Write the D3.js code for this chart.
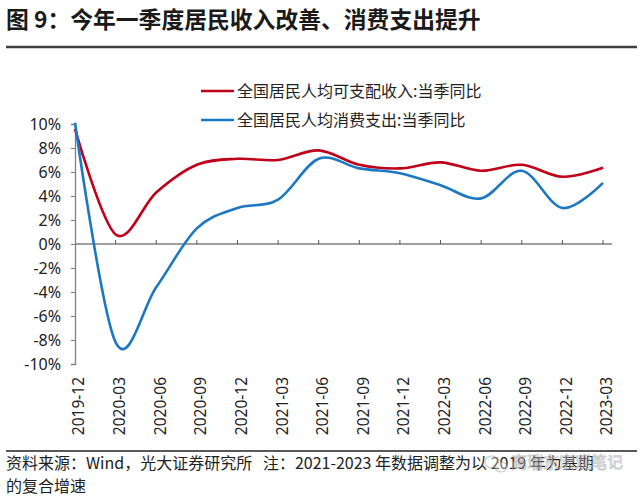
<!DOCTYPE html>
<html>
<head>
<meta charset="utf-8">
<script src="https://cdn.jsdelivr.net/npm/d3@7/dist/d3.min.js"></script>
<style>
  body { margin: 0; background: #fff; }
  svg { display: block; }
</style>
</head>
<body>
<div id="chart"></div>
<script>
// quarters on the x axis
const quarters = ["2019-12", "2020-03", "2020-06", "2020-09", "2020-12", "2021-03", "2021-06",
                  "2021-09", "2021-12", "2022-03", "2022-06", "2022-09", "2022-12", "2023-03"];
// 全国居民人均可支配收入:当季同比 (%)
const income = [9.6, 0.8, 4.3, 6.6, 7.1, 7.0, 7.8, 6.6, 6.3, 6.8, 6.1, 6.6, 5.6, 6.35];
// 全国居民人均消费支出:当季同比 (%)
const spending = [10.1, -8.2, -3.6, 1.3, 3.0, 3.7, 7.1, 6.3, 5.9, 4.9, 3.8, 6.1, 3.0, 5.1];
const yTicks = [-10, -8, -6, -4, -2, 0, 2, 4, 6, 8, 10];

const seriesNames = ["全国居民人均可支配收入:当季同比", "全国居民人均消费支出:当季同比"];
const colors = ["#c00018", "#1c78c2"];

const width = 640, height = 498;
const cjk = "'Noto Sans CJK SC', sans-serif";
const num = "'Noto Sans', 'Noto Sans CJK SC', sans-serif";

const svg = d3.select("#chart")
    .append("svg")
    .attr("width", width)
    .attr("height", height);

// title
svg.append("text")
    .attr("x", 6)
    .attr("y", 28)
    .attr("font-family", cjk)
    .attr("font-weight", 700)
    .attr("font-size", 22.8)
    .attr("fill", "#1a1a1a")
    .text("图 9：今年一季度居民收入改善、消费支出提升");

svg.append("line")
    .attr("x1", 6).attr("x2", 637)
    .attr("y1", 47).attr("y2", 47)
    .attr("stroke", "#404040")
    .attr("stroke-width", 2.5);

const x = d3.scalePoint()
    .domain(quarters)
    .range([75, 603]);

const y = d3.scaleLinear()
    .domain([-10, 10])
    .range([364, 124]);

// y axis
const yAxis = svg.append("g")
    .attr("transform", "translate(75,0)")
    .call(d3.axisLeft(y).tickValues(yTicks).tickSize(4).tickPadding(10).tickFormat(d => d + "%"));
yAxis.select(".domain").attr("stroke", "#7f7f7f").attr("stroke-width", 1.3);
yAxis.selectAll(".tick line").attr("stroke", "#7f7f7f");
yAxis.selectAll(".tick text")
    .attr("font-family", num)
    .attr("font-size", 16)
    .attr("fill", "#222");

// x axis on the zero line
const xAxis = svg.append("g")
    .attr("transform", `translate(0,${y(0)})`);
xAxis.append("line")
    .attr("x1", 75).attr("x2", 612)
    .attr("stroke", "#7f7f7f")
    .attr("stroke-width", 1.5);
xAxis.selectAll(".tk")
    .data(quarters.slice(1))
    .enter().append("line")
    .attr("class", "tk")
    .attr("x1", d => x(d)).attr("x2", d => x(d))
    .attr("y1", 0).attr("y2", -4)
    .attr("stroke", "#555")
    .attr("stroke-width", 1);

// rotated quarter labels below the plot
svg.selectAll(".xlab")
    .data(quarters)
    .enter().append("text")
    .attr("class", "xlab")
    .attr("transform", d => `translate(${x(d) + 4},377) rotate(-90)`)
    .attr("text-anchor", "end")
    .attr("dy", "0.35em")
    .attr("font-family", num)
    .attr("font-size", 15.5)
    .attr("fill", "#222")
    .text(d => d);

// lines
const line = d3.line()
    .x((d, i) => x(quarters[i]))
    .y(d => y(d))
    .curve(d3.curveCatmullRom.alpha(0));

[income, spending].forEach((s, k) => {
    svg.append("path")
        .datum(s)
        .attr("fill", "none")
        .attr("stroke", colors[k])
        .attr("stroke-width", 2.6)
        .attr("d", line);
});

// legend
const legend = svg.append("g");
seriesNames.forEach((name, k) => {
    const ly = 91 + k * 29;
    legend.append("line")
        .attr("x1", 201).attr("x2", 234)
        .attr("y1", ly).attr("y2", ly)
        .attr("stroke", colors[k])
        .attr("stroke-width", 2.6);
    legend.append("text")
        .attr("x", 237)
        .attr("y", ly)
        .attr("dy", "0.35em")
        .attr("font-family", cjk)
        .attr("font-size", 16)
        .attr("fill", "#222")
        .text(name);
});

// footer
svg.append("line")
    .attr("x1", 6).attr("x2", 637)
    .attr("y1", 451).attr("y2", 451)
    .attr("stroke", "#222")
    .attr("stroke-width", 1.3);

const foot = svg.append("text")
    .attr("font-family", cjk)
    .attr("font-size", 16)
    .attr("fill", "#222")
    .style("white-space", "pre");
foot.append("tspan")
    .attr("x", 6).attr("y", 469)
    .text("资料来源：Wind，光大证券研究所   注：2021-2023 年数据调整为以 2019 年为基期");
foot.append("tspan")
    .attr("x", 6).attr("y", 492)
    .text("的复合增速");

// watermark, semi-transparent over the note
const wm = svg.append("g").attr("opacity", 0.6);
wm.append("ellipse")
    .attr("cx", 492).attr("cy", 462).attr("rx", 7).attr("ry", 6)
    .attr("fill", "rgba(255,255,255,0.6)").attr("stroke", "#aaa").attr("stroke-width", 1.2);
wm.append("ellipse")
    .attr("cx", 501).attr("cy", 467).attr("rx", 6).attr("ry", 5)
    .attr("fill", "rgba(255,255,255,0.6)").attr("stroke", "#aaa").attr("stroke-width", 1.2);
wm.append("text")
    .attr("x", 511).attr("y", 468)
    .attr("font-family", cjk)
    .attr("font-size", 16)
    .attr("fill", "rgba(255,255,255,0.5)")
    .attr("stroke", "#aaa")
    .attr("stroke-width", 0.9)
    .text("高瑞东宏观笔记");
</script>
</body>
</html>
